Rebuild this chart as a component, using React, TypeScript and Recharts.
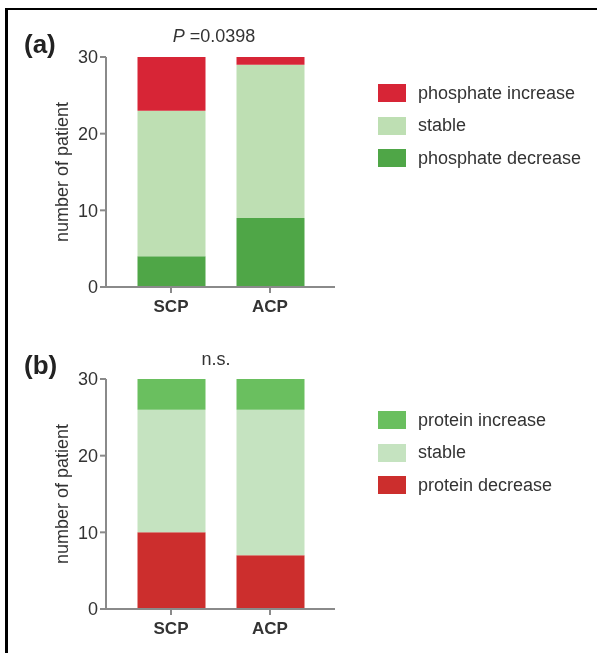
import React from "react";
import { Bar, BarChart, Legend, XAxis, YAxis } from "recharts";

const groups = ["SCP", "ACP"];

const phosphateDecrease = [4, 9];
const phosphateStable = [19, 20];
const phosphateIncrease = [7, 1];

const proteinDecrease = [10, 7];
const proteinStable = [16, 19];
const proteinIncrease = [4, 4];

const yTicks = [0, 10, 20, 30];

const FONT = "'Liberation Sans', Arial, Helvetica, sans-serif";
const AXIS = "#8a8a8a";
const TEXT = "#333";

type Series = { key: string; name: string; color: string };

const phosphateSeries: Series[] = [
  { key: "decrease", name: "phosphate decrease", color: "#4fa647" },
  { key: "stable", name: "stable", color: "#bedfb3" },
  { key: "increase", name: "phosphate increase", color: "#d72536" },
];

const proteinSeries: Series[] = [
  { key: "decrease", name: "protein decrease", color: "#cc2e2d" },
  { key: "stable", name: "stable", color: "#c5e3c0" },
  { key: "increase", name: "protein increase", color: "#6abf5f" },
];

const phosphateData = groups.map((g, i) => ({
  group: g,
  decrease: phosphateDecrease[i],
  stable: phosphateStable[i],
  increase: phosphateIncrease[i],
}));

const proteinData = groups.map((g, i) => ({
  group: g,
  decrease: proteinDecrease[i],
  stable: proteinStable[i],
  increase: proteinIncrease[i],
}));

const LegendBox = ({ series }: { series: Series[] }) => (
  <div style={{ fontFamily: FONT, fontSize: 18, color: TEXT }}>
    {[...series].reverse().map((s) => (
      <div
        key={s.name}
        style={{ display: "flex", alignItems: "center", height: 32.5 }}
      >
        <span
          style={{
            display: "inline-block",
            width: 28,
            height: 18,
            background: s.color,
            marginRight: 12,
          }}
        />
        <span>{s.name}</span>
      </div>
    ))}
  </div>
);

type PanelProps = {
  data: any[];
  series: Series[];
  height: number;
  top: number;
  legendTop: number;
  tag: string;
  tagTop: number;
  note: React.ReactNode;
  noteX: number;
  noteY: number;
};

const Panel = (p: PanelProps) => {
  const xHeight = p.height - p.top - 230;
  return (
    <div style={{ position: "relative", width: 589, height: p.height }}>
      <BarChart
        width={589}
        height={p.height}
        data={p.data}
        margin={{ top: p.top, right: 262, left: 0, bottom: 0 }}
      >
        <XAxis
          dataKey="group"
          height={xHeight}
          padding={{ left: 15.5, right: 15.5 }}
          axisLine={{ stroke: AXIS, strokeWidth: 2 }}
          tickLine={{ stroke: AXIS, strokeWidth: 2 }}
          tickSize={6}
          tickMargin={7}
          tick={{ fill: TEXT, fontSize: 17, fontWeight: "bold", fontFamily: FONT }}
        />
        <XAxis
          xAxisId="top"
          dataKey="group"
          orientation="top"
          height={0}
          tick={false}
          tickLine={false}
          axisLine={{ stroke: AXIS, strokeWidth: 2 }}
        />
        <YAxis
          width={98}
          domain={[0, 30]}
          ticks={yTicks}
          interval={0}
          axisLine={{ stroke: AXIS, strokeWidth: 2 }}
          tickLine={{ stroke: AXIS, strokeWidth: 2 }}
          tickSize={6}
          tickMargin={2}
          tick={{ fill: TEXT, fontSize: 18, fontFamily: FONT }}
          label={{
            value: "number of patient",
            angle: -90,
            position: "insideLeft",
            offset: 54,
            style: { textAnchor: "middle", fill: TEXT, fontSize: 18, fontFamily: FONT },
          }}
        />
        <YAxis
          yAxisId="right"
          orientation="right"
          width={0}
          domain={[0, 30]}
          tick={false}
          tickLine={false}
          axisLine={{ stroke: AXIS, strokeWidth: 2 }}
        />
        {p.series.map((s) => (
          <Bar
            key={s.key}
            dataKey={s.key}
            name={s.name}
            stackId="a"
            fill={s.color}
            barSize={68}
            isAnimationActive={false}
          />
        ))}
        <Legend
          layout="horizontal"
          align="center"
          verticalAlign="middle"
          wrapperStyle={{ top: p.legendTop, left: 370, width: 215, height: 100 }}
          content={() => <LegendBox series={p.series} />}
        />
      </BarChart>
      <div
        style={{
          position: "absolute",
          left: 16,
          top: p.tagTop,
          fontFamily: FONT,
          fontSize: 26,
          fontWeight: "bold",
          color: "#222",
          lineHeight: 1,
        }}
      >
        {p.tag}
      </div>
      <div
        style={{
          position: "absolute",
          left: p.noteX,
          top: p.noteY,
          transform: "translate(-50%, -50%)",
          fontFamily: FONT,
          fontSize: 18,
          color: TEXT,
          lineHeight: 1,
          whiteSpace: "nowrap",
        }}
      >
        {p.note}
      </div>
    </div>
  );
};

export default function App() {
  return (
    <div style={{ position: "relative", width: 589, paddingTop: 2 }}>
      {/* frame: top and left black rules */}
      <div
        style={{
          position: "fixed",
          left: 5,
          top: 8,
          width: 592,
          height: 2,
          background: "#000",
        }}
      />
      <div
        style={{
          position: "fixed",
          left: 5,
          top: 8,
          width: 3,
          height: 645,
          background: "#000",
          zIndex: 5,
        }}
      />
      <Panel
        data={phosphateData}
        series={phosphateSeries}
        height={320}
        top={47}
        legendTop={67}
        tag="(a)"
        tagTop={21}
        note={
          <>
            <i>P</i> =0.0398
          </>
        }
        noteX={206}
        noteY={26}
      />
      <Panel
        data={proteinData}
        series={proteinSeries}
        height={323}
        top={49}
        legendTop={74}
        tag="(b)"
        tagTop={22}
        note="n.s."
        noteX={208}
        noteY={29}
      />
    </div>
  );
}
